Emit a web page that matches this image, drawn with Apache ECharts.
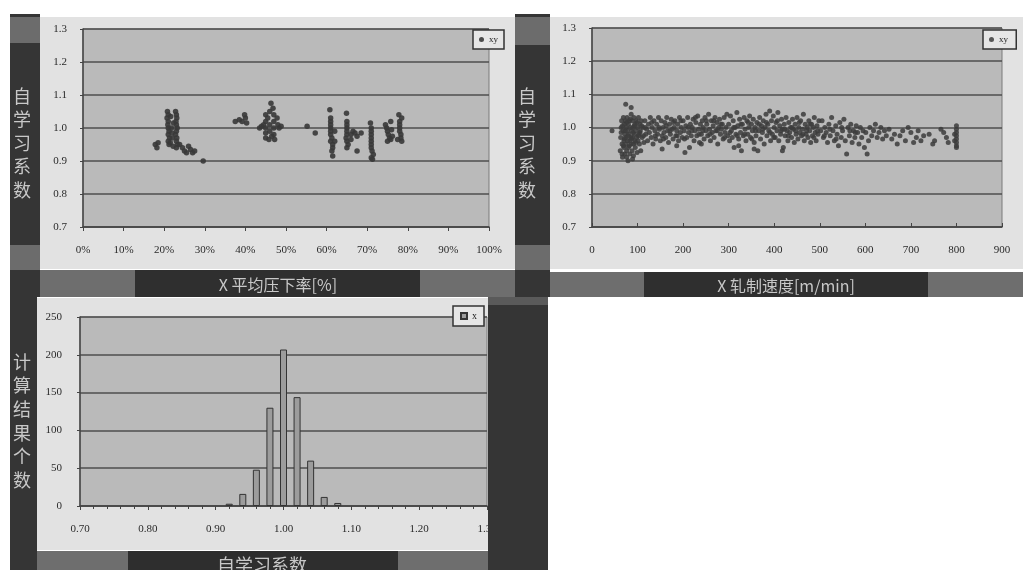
<!DOCTYPE html>
<html>
<head>
<meta charset="utf-8">
<script src="https://cdn.jsdelivr.net/npm/echarts@6/dist/echarts.min.js"></script>
<style>html,body{margin:0;padding:0;background:#fff}#main{width:1023px;height:570px}</style>
</head>
<body>
<div id="main"></div>
<script>
// 平均压下率[%] - 自学习系数
var reductionPoints = [
  [17.8,0.95],[18.2,0.94],[18.5,0.955],
  [20.8,1.05],[21,1.04],[20.7,1.03],[21,1.02],[20.9,1.01],[21,1.0],[21.2,0.99],[21,0.98],[21.3,0.97],[21,0.96],[21.2,0.95],
  [22.8,1.05],[23,1.04],[23.1,1.03],[22.9,1.02],[23,1.01],[23.2,1.0],[23,0.99],[22.8,0.98],[23.1,0.97],[23,0.96],[23.3,0.95],[23,0.94],
  [21.8,1.0],[22,0.97],[21.5,0.955],[22.2,0.945],[21.6,1.035],[22.3,1.015],[21.9,0.985],
  [23.8,0.95],[24.5,0.94],[25,0.93],[25.5,0.925],[26,0.945],[26.5,0.935],[27,0.925],[27.5,0.93],
  [29.6,0.90],
  [37.5,1.02],[38.5,1.025],[39.2,1.02],[40,1.03],[40.3,1.015],[39.8,1.04],
  [43.5,1.0],[44,1.005],[44.5,1.01],[45,1.04],[45,1.02],[45,1.0],[45,0.985],[45,0.97],[45.5,1.03],[46,1.05],
  [46,1.01],[46,0.99],[46.3,1.075],[46.8,1.06],[47,1.04],[47,1.02],[47,1.0],[47,0.98],[47.2,0.965],[47.8,1.03],
  [48,1.01],[48.3,1.0],[48.8,1.005],[46.5,0.975],[45.8,0.965],
  [55.2,1.005],[57.2,0.985],
  [60.8,1.055],[61,1.03],[61,1.02],[61,1.01],[61,1.0],[61,0.99],[61,0.98],[61.3,0.97],[61,0.96],[61.5,0.95],
  [61.5,0.94],[61.3,0.93],[61.5,0.915],[62,0.96],[62,0.99],
  [64.9,1.045],[65,1.02],[65,1.01],[65,1.0],[65,0.99],[65,0.98],[64.8,0.97],[65,0.96],[65.3,0.95],[65,0.94],
  [66,0.98],[66.5,0.99],[67,0.985],[67.5,0.975],[68.5,0.985],[67.5,0.93],[66,0.965],
  [70.8,1.015],[71,1.0],[71,0.99],[71,0.98],[71,0.97],[71,0.96],[71,0.95],[71,0.94],[71.2,0.93],[71.5,0.92],[71,0.91],[71.3,0.905],
  [74.5,1.01],[74.8,1.0],[75,0.99],[75.2,0.98],[75.5,0.97],[75,0.96],[76,0.995],[76.2,0.975],[75.8,1.02],[75.8,0.965],
  [77.8,1.04],[78,1.02],[78,1.01],[78,1.0],[78,0.99],[78.3,0.98],[78.3,0.97],[78.5,0.96],[78.5,1.03],[77.5,0.965]
];

// 轧制速度[m/min] - 自学习系数
var speedPoints = [
  [44,0.99],[74,1.07],[86,1.06],[76,0.91],[66,0.92],[89,0.905],
  [62,0.93],[63,0.97],[64,1.0],[65,1.02],[66,0.95],[67,0.91],[68,0.99],[69,1.03],[70,0.96],[70,0.94],[71,1.01],[72,0.98],
  [72,0.92],[73,1.02],[74,0.97],[75,0.95],[75,1.0],[76,0.93],[77,1.03],[78,0.99],[78,0.96],[79,0.90],[80,1.01],[80,0.94],
  [81,0.98],[82,1.02],[83,0.96],[83,0.92],[84,1.0],[85,0.97],[86,1.04],[86,0.95],[87,0.99],[88,0.93],[88,1.02],[89,0.97],
  [90,1.0],[91,0.95],[91,0.915],[92,1.03],[93,0.98],[94,0.96],[94,1.01],[95,0.94],[96,0.99],[97,1.02],[98,0.97],[99,0.925],
  [100,1.0],[101,0.96],[102,1.03],[103,0.98],[104,0.95],[105,1.01],[106,0.99],[107,0.93],[108,1.02],[110,0.97],[112,1.0],
  [114,0.955],[116,1.02],[118,0.98],[120,0.995],
  [64,0.985],[67,1.005],[69,0.945],[71,0.965],[73,0.99],[76,1.015],[79,0.975],[82,0.945],[84,1.025],[87,0.965],[90,0.985],
  [93,1.005],[96,0.955],[99,1.015],[102,0.975],[105,0.985],[109,1.005],[113,0.975],[117,1.0],
  [122,0.96],[124,1.01],[126,0.985],[128,1.03],[130,0.97],[132,1.0],[134,0.95],[136,1.02],[138,0.99],[140,0.965],[142,1.01],
  [144,0.98],[146,1.03],[148,0.995],[150,0.96],[152,1.02],[154,0.975],[156,1.0],[158,0.985],[160,1.015],[162,0.97],[164,1.03],
  [166,0.99],[168,0.955],[170,1.01],[172,0.98],[174,1.025],[176,0.995],[178,0.965],[180,1.0],[182,1.02],[184,0.975],[186,0.99],
  [188,1.01],[190,0.96],[192,1.03],[194,0.985],[196,1.0],[198,0.97],[200,1.02],[202,0.99],[204,0.925],[206,1.005],[208,0.97],
  [210,1.03],[212,0.985],[214,0.94],[216,1.01],[218,0.975],[220,1.0],[222,1.025],[224,0.96],[226,0.99],[228,1.015],[230,0.975],
  [232,1.035],[234,0.995],[236,0.955],[238,1.01],[240,0.98],[242,1.02],[244,1.0],[246,0.965],[248,1.03],[250,0.99],[252,1.01],
  [254,0.975],[256,1.04],[258,0.995],[260,0.96],[262,1.02],[264,0.985],[266,1.005],[268,0.97],[270,1.03],[272,0.99],[274,1.015],
  [276,0.95],[278,1.0],[280,1.025],[282,0.98],[284,0.995],[286,1.01],[288,0.965],[290,1.03],[292,0.985],[294,1.0],[296,1.04],
  [298,0.975],[154,0.935],[186,0.945],[240,0.95],
  [131,1.015],[139,0.975],[147,1.0],[157,0.965],[163,1.005],[171,0.99],[179,1.015],[187,0.975],[195,1.02],[203,0.965],
  [211,1.0],[219,0.99],[227,1.03],[235,0.98],[243,0.99],[251,1.02],[259,0.98],[267,1.02],[275,0.99],[283,1.01],[291,0.97],
  [300,1.01],[302,0.96],[304,1.035],[306,0.99],[308,0.97],[310,1.02],[312,0.94],[314,1.0],[316,0.98],[318,1.045],[320,1.005],
  [322,0.965],[324,1.025],[326,0.985],[328,0.93],[330,1.01],[332,0.975],[334,1.03],[336,0.995],[338,0.96],[340,1.02],[342,0.98],
  [344,1.0],[346,1.035],[348,0.97],[350,1.01],[352,0.99],[354,1.025],[356,0.955],[358,1.0],[360,0.975],[362,1.015],[364,0.93],
  [366,0.99],[368,1.03],[370,0.965],[372,1.005],[374,0.985],[376,1.02],[378,0.95],[380,1.0],[382,1.04],[384,0.975],[386,1.01],
  [388,0.99],[390,1.05],[392,0.96],[394,1.02],[396,0.98],[398,1.035],[400,1.0],[402,0.97],[404,1.015],[406,0.99],[408,1.045],
  [410,0.96],[412,1.005],[414,0.98],[416,1.025],[418,0.995],[420,0.94],[422,1.01],[424,0.975],[426,1.03],[428,0.99],[430,0.96],
  [432,1.015],[434,0.985],[436,1.0],[438,0.97],[440,1.025],[442,0.995],[444,0.955],[446,1.01],[448,0.98],[450,1.03],[452,0.965],
  [454,1.0],[456,0.985],[458,1.02],[460,0.975],[462,0.995],[464,1.04],[466,0.96],[468,1.01],[470,0.98],[472,1.0],[474,0.97],
  [476,1.02],[478,0.99],[480,0.955],[482,1.01],[484,0.975],[486,1.0],[488,1.03],[490,0.985],[492,0.96],[494,1.005],[496,0.98],
  [498,1.02],[418,0.93],[356,0.935],[322,0.945],
  [303,0.985],[311,1.0],[319,0.975],[327,1.01],[335,0.98],[343,1.015],[351,0.965],[359,0.99],[367,1.01],[375,0.995],[383,1.015],
  [391,0.985],[399,0.97],[407,1.02],[415,0.99],[423,0.995],[431,0.975],[439,1.0],[447,0.99],[455,1.015],[463,0.98],[471,0.99],
  [479,1.01],[487,0.97],[495,0.99],
  [502,0.99],[505,1.02],[508,0.97],[511,1.0],[514,0.985],[517,0.955],[520,1.01],[523,0.975],[526,1.03],[529,0.99],[532,0.96],
  [535,1.005],[538,0.98],[541,0.945],[544,1.015],[547,0.97],[550,0.99],[553,1.025],[556,0.96],[559,0.92],[562,1.0],[565,0.975],
  [568,1.01],[571,0.955],[574,0.99],[577,0.97],[580,1.005],[583,0.985],[586,0.95],[589,1.0],[592,0.97],[595,0.99],[598,0.94],
  [601,0.985],[604,0.92],[607,0.96],[610,1.0],[614,0.975],[618,0.99],[622,1.01],[626,0.97],[630,0.985],[634,1.0],[638,0.965],
  [642,0.99],[646,0.975],[510,0.975],[522,0.995],[536,0.965],[548,1.0],[566,0.99],[578,0.985],
  [652,0.995],[658,0.965],[664,0.98],[670,0.95],[676,0.975],[682,0.99],[688,0.96],[694,1.0],[700,0.985],[706,0.955],[712,0.97],
  [716,0.99],[722,0.96],[728,0.975],[740,0.98],[748,0.95],[752,0.96],[766,0.995],[772,0.985],[778,0.97],[782,0.955],
  [800,1.005],[800,0.995],[800,0.985],[800,0.975],[800,0.965],[800,0.955],[800,0.945],[800,0.94],[796,0.98],[796,0.96]
];

// 自学习系数分布
var histBins = [0.92, 0.94, 0.96, 0.98, 1.00, 1.02, 1.04, 1.06, 1.08];
var histCounts = [3, 16, 48, 130, 207, 144, 60, 12, 4];

var histData = [];
for (var i = 0; i < histBins.length; i++) {
    histData.push([histBins[i], histCounts[i]]);
}

var serif = '"Liberation Serif", "DejaVu Serif", serif';
var cjk = '"Noto Sans CJK SC", sans-serif';
var lbl = {color: '#2a2a2a', fontSize: 11, fontFamily: serif};
var gridLine = {show: true, lineStyle: {color: '#4e4e4e', width: 1.5}};
var axLine = {show: true, lineStyle: {color: '#444', width: 1.5}};

function rect(x, y, w, h, fill, z) {
    return {type: 'rect', z: z || -10, silent: true, shape: {x: x, y: y, width: w, height: h}, style: {fill: fill}};
}
function txt(x, y, s, size, lh, z) {
    return {type: 'text', z: z || 50, silent: true, x: x, y: y,
        style: {text: s, fill: '#c8c8c8', font: size + 'px ' + cjk, lineHeight: lh, align: 'center', verticalAlign: 'middle'}};
}

var myChart = echarts.init(document.getElementById('main'));
myChart.setOption({
    backgroundColor: '#ffffff',
    animation: false,
    graphic: [
        // 左上图
        rect(10, 14, 30, 283, '#353535'),
        rect(10, 17, 30, 26, '#6c6c6c'),
        rect(10, 245, 30, 25, '#6c6c6c'),
        rect(40, 17, 475, 252, '#e2e2e2'),
        rect(40, 270, 475, 27, '#6e6e6e'),
        rect(135, 270, 285, 27, '#2f2f2f'),
        // 右上图
        rect(515, 14, 35, 283, '#353535'),
        rect(515, 17, 35, 28, '#6c6c6c'),
        rect(515, 245, 35, 25, '#6c6c6c'),
        rect(550, 17, 473, 252, '#e2e2e2'),
        rect(550, 272, 473, 25, '#6e6e6e'),
        rect(644, 272, 284, 25, '#2f2f2f'),
        // 下图
        rect(10, 297, 27, 273, '#353535'),
        rect(37, 298, 451, 252, '#e2e2e2'),
        rect(37, 551, 451, 19, '#6e6e6e'),
        rect(128, 551, 270, 19, '#2e2e2e'),
        rect(488, 297, 60, 273, '#353535', 60),
        rect(488, 297, 60, 8, '#5a5a5a', 61),
        // 标题文字
        txt(22, 143, '自\n学\n习\n系\n数', 18, 23.5),
        txt(527, 143, '自\n学\n习\n系\n数', 18, 23.5),
        txt(22, 421, '计\n算\n结\n果\n个\n数', 18, 23.6),
        txt(278, 285, 'X 平均压下率[%]', 16, 18),
        txt(786, 286, 'X 轧制速度[m/min]', 16, 18),
        txt(262, 565, '自学习系数', 18, 20)
    ],
    grid: [
        {left: 83, top: 29, width: 406, height: 198, show: true, backgroundColor: '#bababa', borderColor: '#7a7a7a', borderWidth: 1},
        {left: 592, top: 28, width: 410, height: 199, show: true, backgroundColor: '#bababa', borderColor: '#7a7a7a', borderWidth: 1},
        {left: 80, top: 317, width: 407, height: 189, show: true, backgroundColor: '#bababa', borderColor: '#7a7a7a', borderWidth: 1}
    ],
    legend: [
        {data: ['xy'], left: 473, top: 30, orient: 'vertical', backgroundColor: '#e6e6e6', borderColor: '#333', borderWidth: 1.5,
         padding: [5, 6], itemWidth: 5, itemHeight: 5, itemGap: 2, textStyle: {fontSize: 9, color: '#222', fontFamily: serif}},
        {data: ['xy '], left: 983, top: 30, orient: 'vertical', backgroundColor: '#e6e6e6', borderColor: '#333', borderWidth: 1.5,
         padding: [5, 6], itemWidth: 5, itemHeight: 5, itemGap: 2, textStyle: {fontSize: 9, color: '#222', fontFamily: serif}},
        {data: ['x'], left: 453, top: 306, orient: 'vertical', backgroundColor: '#e6e6e6', borderColor: '#333', borderWidth: 1.5,
         padding: [5, 7], itemWidth: 6, itemHeight: 6, itemGap: 2, icon: 'rect', textStyle: {fontSize: 10, color: '#222', fontFamily: serif}}
    ],
    xAxis: [
        {gridIndex: 0, type: 'value', min: 0, max: 100, interval: 10,
         axisLine: axLine, axisTick: {show: true, length: 4, lineStyle: {color: '#444'}}, splitLine: {show: false},
         axisLabel: Object.assign({margin: 18, formatter: '{value}%'}, lbl)},
        {gridIndex: 1, type: 'value', min: 0, max: 900, interval: 100,
         axisLine: axLine, axisTick: {show: true, inside: true, length: 4, lineStyle: {color: '#444'}}, splitLine: {show: false},
         axisLabel: Object.assign({margin: 18}, lbl)},
        {gridIndex: 2, type: 'value', min: 0.7, max: 1.3, interval: 0.1,
         axisLine: axLine, axisTick: {show: true, length: 4, lineStyle: {color: '#444'}},
         minorTick: {show: true, splitNumber: 5, length: 3, lineStyle: {color: '#444'}}, splitLine: {show: false},
         axisLabel: Object.assign({margin: 18, formatter: function (v) { return v.toFixed(2); }}, lbl)}
    ],
    yAxis: [
        {gridIndex: 0, type: 'value', min: 0.7, max: 1.3, interval: 0.1, axisLine: axLine,
         axisTick: {show: true, length: 3, lineStyle: {color: '#444'}}, splitLine: gridLine,
         axisLabel: Object.assign({margin: 16, formatter: function (v) { return v.toFixed(1); }}, lbl)},
        {gridIndex: 1, type: 'value', min: 0.7, max: 1.3, interval: 0.1, axisLine: axLine,
         axisTick: {show: true, length: 3, lineStyle: {color: '#444'}}, splitLine: gridLine,
         axisLabel: Object.assign({margin: 16, formatter: function (v) { return v.toFixed(1); }}, lbl)},
        {gridIndex: 2, type: 'value', min: 0, max: 250, interval: 50, axisLine: axLine,
         axisTick: {show: true, length: 3, lineStyle: {color: '#444'}}, splitLine: gridLine,
         axisLabel: Object.assign({margin: 18}, lbl)}
    ],
    series: [
        {name: 'xy', type: 'scatter', xAxisIndex: 0, yAxisIndex: 0, symbolSize: 5.5,
         itemStyle: {color: '#383838', opacity: 0.9}, data: reductionPoints},
        {name: 'xy ', type: 'scatter', xAxisIndex: 1, yAxisIndex: 1, symbolSize: 5,
         itemStyle: {color: '#3c3c3c', opacity: 0.85}, data: speedPoints},
        {name: 'x', type: 'bar', xAxisIndex: 2, yAxisIndex: 2, barWidth: 7,
         itemStyle: {color: '#9c9c9c', borderColor: '#333', borderWidth: 1}, data: histData}
    ]
});
</script>
</body>
</html>
